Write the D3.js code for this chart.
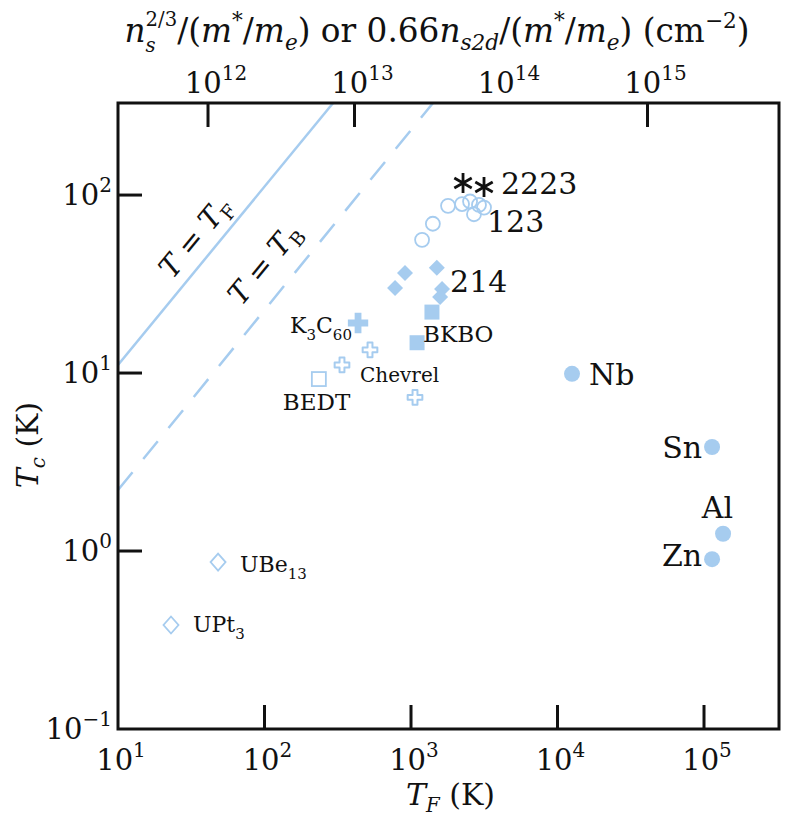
<!DOCTYPE html>
<html>
<head>
<meta charset="utf-8">
<script src="https://cdn.jsdelivr.net/npm/d3@7"></script>
<style>
  body { margin: 0; background: #fff; }
</style>
</head>
<body>
<div id="chart"></div>
<script>
// data (T_F in K, T_c in K)
var tf2223 = [2265, 3150];
var tc2223 = [117, 111];
var tf123 = [1190, 1410, 1790, 2230, 2530, 2910, 2690, 3150];
var tc123 = [56, 69, 87, 89, 92, 88, 78, 85];
var tf214 = [778, 910, 1500, 1630, 1580];
var tc214 = [30, 36.5, 39, 29.7, 26.7];
var tfBKBO = [1390, 1100];
var tcBKBO = [22, 14.8];
var tfK3C60 = [435];
var tcK3C60 = [19.1];
var tfChevrel = [525, 338, 1065];
var tcChevrel = [13.5, 11.1, 7.3];
var tfBEDT = [235];
var tcBEDT = [9.25];
var tfHeavy = [48.2, 23.0];
var tcHeavy = [0.867, 0.384];
var metalNames = ["Nb", "Sn", "Al", "Zn"];
var tfMetal = [12560, 113500, 134900, 113500];
var tcMetal = [9.9, 3.84, 1.25, 0.9];

// T = T_F and T = T_B guide lines, end points
var tfLineF = [10, 294];
var tcLineF = [11.1, 329];
var tfLineB = [10, 1413];
var tcLineB = [2.2, 329];

var xTicks = [1e1, 1e2, 1e3, 1e4, 1e5];
var yTicks = [1e-1, 1e0, 1e1, 1e2];
var topTicks = [1e12, 1e13, 1e14, 1e15];
var topTickMarks = [1e12, 1e13, 1e15];
var nPerK = 2.43e10; // top axis density per kelvin of T_F

// set the dimensions and margins of the graph
var margin = { top: 103, right: 10, bottom: 93, left: 118 },
    width = 789 - margin.left - margin.right,
    height = 822 - margin.top - margin.bottom;

var blue = "#a6ccef";
var font = "DejaVu Serif";

var svgRoot = d3.select("#chart")
    .append("svg")
    .attr("width", 789)
    .attr("height", 822)
    .attr("font-family", font);
var svg = svgRoot.append("g")
    .attr("transform", "translate(" + margin.left + "," + margin.top + ")");

var x = d3.scaleLog().domain([10, 3.25e5]).range([0, width]);
var y = d3.scaleLog().domain([0.1, 329]).range([height, 0]);
var xTop = d3.scaleLog().domain([10 * nPerK, 3.25e5 * nPerK]).range([0, width]);

svg.append("clipPath").attr("id", "clip")
    .append("rect").attr("width", width).attr("height", height);

var plot = svg.append("g").attr("clip-path", "url(#clip)");

// math-like label in one text element, centred on 0
// piece: [text, italic, shift (0 / "sup" / "sub"), stack with next]
function mathText(parent, pieces, size, fitWidth) {
    var g = parent.append("g");
    var t = g.append("text")
        .attr("font-family", font)
        .style("fill", "#111")
        .style("white-space", "pre");
    function build(sz) {
        t.selectAll("tspan").remove();
        var cx = 0, stackX = null, stackW = 0, stacked = false;
        pieces.forEach(function (p) {
            var both = p[3] || stacked;
            var small = p[2] ? sz * (both ? 0.6 : 0.66) : sz;
            var dy = p[2] == "sup" ? -sz * (both ? 0.5 : 0.42) : (p[2] == "sub" ? sz * (both ? 0.3 : 0.24) : 0);
            var startX = stackX != null ? stackX : cx;
            var s = t.append("tspan")
                .attr("x", startX).attr("y", dy)
                .style("font-size", small + "px")
                .style("font-style", p[1] ? "italic" : "normal")
                .text(p[0].replace(/ /g, "\u00a0"));
            var w = s.node().getComputedTextLength();
            if (p[3]) {
                stackX = startX; stackW = Math.max(stackW, w); stacked = true;
            } else {
                cx = startX + Math.max(w, stackX != null ? stackW : 0);
                stackX = null; stackW = 0; stacked = false;
            }
        });
        return cx;
    }
    var total = build(size);
    if (fitWidth) total = build(size * fitWidth / total);
    t.selectAll("tspan").attr("x", function () { return +d3.select(this).attr("x") - total / 2; });
    return g;
}

// reference lines
plot.append("line")
    .attr("x1", x(tfLineF[0])).attr("y1", y(tcLineF[0]))
    .attr("x2", x(tfLineF[1])).attr("y2", y(tcLineF[1]))
    .attr("stroke", blue).attr("stroke-width", 2.5);
plot.append("line")
    .attr("x1", x(tfLineB[0])).attr("y1", y(tcLineB[0]))
    .attr("x2", x(tfLineB[1])).attr("y2", y(tcLineB[1]))
    .attr("stroke", blue).attr("stroke-width", 2.5)
    .attr("stroke-dasharray", "23,17");

var ang = Math.atan2(y(tcLineF[1]) - y(tcLineF[0]), x(tfLineF[1]) - x(tfLineF[0])) * 180 / Math.PI;

mathText(svg, [["T", 1], [" = ", 0], ["T", 1], ["F", 0, "sub"]], 29)
    .attr("transform", "translate(" + (x(36) + 3) + "," + (y(57) + 5) + ") rotate(" + ang + ")");
mathText(svg, [["T", 1], [" = ", 0], ["T", 1], ["B", 0, "sub"]], 29)
    .attr("transform", "translate(" + (x(107) + 3) + "," + (y(40.5) + 5) + ") rotate(" + ang + ")");

function pts(tfs, tcs) {
    return tfs.map(function (d, i) { return [x(d), y(tcs[i])]; });
}
function tr(d) { return "translate(" + d[0] + "," + d[1] + ")"; }

// open circles (123)
plot.selectAll("c123").data(pts(tf123, tc123)).enter()
    .append("circle")
    .attr("cx", function (d) { return d[0]; })
    .attr("cy", function (d) { return d[1]; })
    .attr("r", 7)
    .attr("fill", "none").attr("stroke", blue).attr("stroke-width", 1.8);

// filled diamonds (214)
plot.selectAll("d214").data(pts(tf214, tc214)).enter()
    .append("path")
    .attr("d", "M0,-8L8,0L0,8L-8,0Z")
    .attr("transform", tr)
    .attr("fill", blue);

// filled squares (BKBO)
plot.selectAll("sq").data(pts(tfBKBO, tcBKBO)).enter()
    .append("rect")
    .attr("x", function (d) { return d[0] - 7.5; })
    .attr("y", function (d) { return d[1] - 7.5; })
    .attr("width", 15).attr("height", 15)
    .attr("fill", blue);

// filled plus (K3C60)
plot.selectAll("pl").data(pts(tfK3C60, tcK3C60)).enter()
    .append("path")
    .attr("d", d3.symbol(d3.symbolCross, 230))
    .attr("transform", tr)
    .attr("fill", blue);

// open crosses (Chevrel)
plot.selectAll("ch").data(pts(tfChevrel, tcChevrel)).enter()
    .append("path")
    .attr("d", d3.symbol(d3.symbolCross, 120))
    .attr("transform", tr)
    .attr("fill", "#fff").attr("stroke", blue).attr("stroke-width", 2)
    .attr("stroke-linejoin", "round");

// open square (BEDT)
plot.selectAll("osq").data(pts(tfBEDT, tcBEDT)).enter()
    .append("rect")
    .attr("x", function (d) { return d[0] - 7; })
    .attr("y", function (d) { return d[1] - 7; })
    .attr("width", 14).attr("height", 14)
    .attr("fill", "none").attr("stroke", blue).attr("stroke-width", 1.8);

// open diamonds (heavy fermions)
plot.selectAll("od").data(pts(tfHeavy, tcHeavy)).enter()
    .append("path")
    .attr("d", "M0,-8.5L7.5,0L0,8.5L-7.5,0Z")
    .attr("transform", tr)
    .attr("fill", "none").attr("stroke", blue).attr("stroke-width", 1.8);

// filled circles (metals)
plot.selectAll("met").data(pts(tfMetal, tcMetal)).enter()
    .append("circle")
    .attr("cx", function (d) { return d[0]; })
    .attr("cy", function (d) { return d[1]; })
    .attr("r", 8)
    .attr("fill", blue);

// asterisks (2223)
var star = "M0,-10L0,10M-8.7,-5L8.7,5M-8.7,5L8.7,-5";
plot.selectAll("st").data(pts(tf2223, tc2223)).enter()
    .append("path")
    .attr("d", star)
    .attr("transform", tr)
    .attr("stroke", "#111").attr("stroke-width", 2.8);

// text labels
function label(tf, tc, dx, dy, txt, size, anchor) {
    return svg.append("text")
        .attr("x", x(tf) + dx).attr("y", y(tc) + dy)
        .attr("text-anchor", anchor || "start")
        .style("font-size", size + "px")
        .style("fill", "#111")
        .text(txt);
}
label(tf2223[1], tc2223[1], 17, 7, "2223", 30);
label(tf123[7], tc123[7], 3, 24, "123", 30);
label(tf214[3], tc214[3], 8, 3, "214", 30);
label(tfBKBO[1], tcBKBO[1], 6, -1, "BKBO", 23);
label(tfChevrel[0], tcChevrel[0], -10, 32, "Chevrel", 20);
label(tfBEDT[0], tcBEDT[0], -36, 31, "BEDT", 23);
label(tfMetal[0], tcMetal[0], 17, 11, metalNames[0], 30);
label(tfMetal[1], tcMetal[1], -10, 11, metalNames[1], 30, "end");
label(tfMetal[2], tcMetal[2], 10, -16, metalNames[2], 30, "end");
label(tfMetal[3], tcMetal[3], -10, 7, metalNames[3], 30, "end");

function subLabel(tf, tc, dx, dy, parts) {
    var t = svg.append("text")
        .attr("x", x(tf) + dx).attr("y", y(tc) + dy)
        .style("fill", "#111");
    parts.forEach(function (p) {
        t.append("tspan").attr("dy", p[1]).style("font-size", p[2] + "px").text(p[0]);
    });
}
subLabel(tfK3C60[0], tcK3C60[0], -68, 10, [["K", 0, 22], ["3", 7, 15], ["C", -7, 22], ["60", 7, 15]]);
subLabel(tfHeavy[0], tcHeavy[0], 22, 10, [["UBe", 0, 22], ["13", 7, 15]]);
subLabel(tfHeavy[1], tcHeavy[1], 22, 7, [["UPt", 0, 22], ["3", 7, 15]]);

// frame
svg.append("rect")
    .attr("width", width).attr("height", height)
    .attr("fill", "none").attr("stroke", "#111").attr("stroke-width", 3);

// ticks (inward)
var tlen = 24;
svg.selectAll("bt").data(xTicks.slice(1)).enter().append("line")
    .attr("x1", function (d) { return x(d); }).attr("x2", function (d) { return x(d); })
    .attr("y1", height).attr("y2", height - tlen)
    .attr("stroke", "#111").attr("stroke-width", 3);
svg.selectAll("lt").data(yTicks.slice(1)).enter().append("line")
    .attr("y1", function (d) { return y(d); }).attr("y2", function (d) { return y(d); })
    .attr("x1", 0).attr("x2", tlen)
    .attr("stroke", "#111").attr("stroke-width", 3);
svg.selectAll("tt").data(topTickMarks).enter().append("line")
    .attr("x1", function (d) { return xTop(d); }).attr("x2", function (d) { return xTop(d); })
    .attr("y1", 0).attr("y2", tlen)
    .attr("stroke", "#111").attr("stroke-width", 3);

// tick labels 10^n
function powLabel(px, py, n, anchor) {
    var t = svg.append("text")
        .attr("x", px).attr("y", py)
        .attr("text-anchor", anchor)
        .style("font-size", "29px")
        .style("fill", "#111");
    t.append("tspan").text("10");
    t.append("tspan").attr("dy", -13).style("font-size", "20px").text(n);
}
xTicks.forEach(function (d) {
    powLabel(x(d) + 3, height + 41, Math.round(Math.log10(d)), "middle");
});
yTicks.forEach(function (d) {
    powLabel(-6, y(d) + 10, String(Math.round(Math.log10(d))).replace("-", "\u2212"), "end");
});
topTicks.forEach(function (d) {
    powLabel(xTop(d) + 8, -10, Math.round(Math.log10(d)), "middle");
});

// axis titles
mathText(svg, [["T", 1], ["F", 1, "sub"], [" (K)", 0]], 30)
    .attr("transform", "translate(" + (width / 2 + 2) + "," + (height + 76) + ")");
mathText(svg, [["T", 1], ["c", 1, "sub"], [" (K)", 0]], 30)
    .attr("transform", "translate(-80," + (height / 2 + 29) + ") rotate(-90)");
mathText(svgRoot, [
    ["n", 1], ["2/3", 0, "sup", 1], ["s", 1, "sub"], ["/(", 0], ["m", 1], ["*", 0, "sup"], ["/", 0],
    ["m", 1], ["e", 1, "sub"], [") or 0.66", 0], ["n", 1], ["s2d", 1, "sub"], ["/(", 0], ["m", 1],
    ["*", 0, "sup"], ["/", 0], ["m", 1], ["e", 1, "sub"], [") (cm", 0], ["\u22122", 0, "sup"], [")", 0]
], 30, 625).attr("transform", "translate(437,42)");
</script>
</body>
</html>
